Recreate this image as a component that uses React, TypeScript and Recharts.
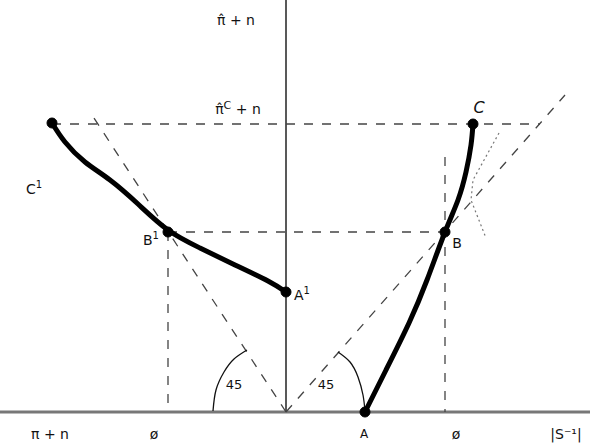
import React from "react";
import {
  ComposedChart,
  Line,
  XAxis,
  YAxis,
  ReferenceDot,
} from "recharts";

type Pt = { x: number; y: number };

// curves (thick)
const rightCurve: Pt[] = [
  { x: 7.9, y: 0 },
  { x: 10.0, y: 4.2 },
  { x: 12.3, y: 8.9 },
  { x: 14.1, y: 13.2 },
  { x: 15.9, y: 18.0 },
  { x: 17.2, y: 21.2 },
  { x: 18.0, y: 24.0 },
  { x: 18.5, y: 26.7 },
  { x: 18.7, y: 28.8 },
];

const leftCurve: Pt[] = [
  { x: -23.4, y: 28.9 },
  { x: -22.1, y: 27.0 },
  { x: -20.1, y: 25.0 },
  { x: -17.6, y: 23.2 },
  { x: -14.8, y: 20.8 },
  { x: -11.8, y: 18.2 },
  { x: -8.6, y: 16.4 },
  { x: -5.1, y: 14.7 },
  { x: -1.8, y: 13.1 },
  { x: 0, y: 12.0 },
];

// dashed guide lines
const topLevel: Pt[] = [{ x: -23.4, y: 28.8 }, { x: 25.4, y: 28.8 }];
const midLevel: Pt[] = [{ x: -11.8, y: 18.0 }, { x: 15.9, y: 18.0 }];
const dropLeft: Pt[] = [{ x: -11.8, y: 18.0 }, { x: -11.8, y: 0 }];
const dropRight: Pt[] = [{ x: 15.9, y: 25.5 }, { x: 15.9, y: 0 }];
const diagLeft: Pt[] = [{ x: 0, y: 0 }, { x: -19.6, y: 30.0 }];
const diagRight: Pt[] = [{ x: 0, y: 0 }, { x: 27.9, y: 31.7 }];
const tangentC: Pt[] = [
  { x: 21.3, y: 27.9 },
  { x: 18.7, y: 23.2 },
  { x: 18.5, y: 21.2 },
  { x: 20.0, y: 17.4 },
];

// axes
const hAxis: Pt[] = [{ x: -28.6, y: 0 }, { x: 30.4, y: 0 }];
const vAxis: Pt[] = [{ x: 0, y: 0 }, { x: 0, y: 41.2 }];

// 45 degree arcs
const arcLeft: Pt[] = [
  { x: -7.3, y: 0.1 },
  { x: -7.0, y: 2.2 },
  { x: -6.2, y: 4.0 },
  { x: -5.2, y: 5.3 },
  { x: -3.9, y: 6.2 },
];
const arcRight: Pt[] = [
  { x: 5.2, y: 6.0 },
  { x: 6.4, y: 5.0 },
  { x: 7.2, y: 3.5 },
  { x: 7.7, y: 1.7 },
  { x: 7.9, y: 0.1 },
];

const markedPoints = [
  { name: "C", x: 18.7, y: 28.8 },
  { name: "B", x: 15.9, y: 18.0 },
  { name: "A", x: 7.9, y: 0 },
  { name: "A1", x: 0, y: 12.0 },
  { name: "B1", x: -11.8, y: 18.0 },
  { name: "C1", x: -23.4, y: 28.9 },
];

const dashed = { stroke: "#444", strokeWidth: 1.3, strokeDasharray: "9 9" };
const plain = { dot: false, activeDot: false, isAnimationActive: false } as const;

const labelStyle: React.CSSProperties = {
  position: "absolute",
  transform: "translate(-50%, -50%)",
  fontFamily: "'DejaVu Sans', sans-serif",
  fontSize: 14,
  color: "#111",
  whiteSpace: "nowrap",
  lineHeight: 1,
};

function Label({ x, y, children, style }: { x: number; y: number; children: React.ReactNode; style?: React.CSSProperties }) {
  return <div style={{ ...labelStyle, left: x, top: y, ...style }}>{children}</div>;
}

export default function App() {
  return (
    <div style={{ position: "absolute", left: 0, top: 0, width: 600, height: 444, background: "#fff" }}>
      <ComposedChart width={600} height={444} margin={{ top: 0, right: 0, bottom: 0, left: 0 }}>
        <XAxis type="number" dataKey="x" domain={[-28.6, 31.4]} hide allowDataOverflow />
        <YAxis type="number" dataKey="y" domain={[-3.2, 41.2]} hide allowDataOverflow />

        <Line data={hAxis} dataKey="y" stroke="#777" strokeWidth={3} {...plain} />
        <Line data={vAxis} dataKey="y" stroke="#222" strokeWidth={1.5} {...plain} />

        <Line data={topLevel} dataKey="y" {...dashed} {...plain} />
        <Line data={midLevel} dataKey="y" {...dashed} {...plain} />
        <Line data={dropLeft} dataKey="y" {...dashed} {...plain} />
        <Line data={dropRight} dataKey="y" {...dashed} {...plain} />
        <Line data={diagLeft} dataKey="y" {...dashed} {...plain} />
        <Line data={diagRight} dataKey="y" {...dashed} {...plain} />
        <Line data={tangentC} dataKey="y" stroke="#777" strokeWidth={1.2} strokeDasharray="2 3" {...plain} />

        <Line data={arcLeft} dataKey="y" type="natural" stroke="#111" strokeWidth={1.3} {...plain} />
        <Line data={arcRight} dataKey="y" type="natural" stroke="#111" strokeWidth={1.3} {...plain} />

        <Line data={leftCurve} dataKey="y" type="natural" stroke="#000" strokeWidth={5} strokeLinecap="round" {...plain} />
        <Line data={rightCurve} dataKey="y" type="natural" stroke="#000" strokeWidth={5} strokeLinecap="round" {...plain} />

        {markedPoints.map((p) => (
          <ReferenceDot key={p.name} x={p.x} y={p.y} r={5} fill="#000" stroke="#000" />
        ))}
      </ComposedChart>

      <Label x={236} y={20}>π̂ + n</Label>
      <Label x={238} y={108}>
        π̂<sup style={{ fontSize: 11 }}>C</sup> + n
      </Label>
      <Label x={479} y={108} style={{ fontStyle: "italic", fontSize: 16 }}>C</Label>
      <Label x={34} y={188}>
        C<sup style={{ fontSize: 10 }}>1</sup>
      </Label>
      <Label x={151} y={239}>
        B<sup style={{ fontSize: 10 }}>1</sup>
      </Label>
      <Label x={457} y={243}>B</Label>
      <Label x={302} y={294}>
        A<sup style={{ fontSize: 10 }}>1</sup>
      </Label>
      <Label x={234} y={384} style={{ fontSize: 13 }}>45</Label>
      <Label x={326} y={384} style={{ fontSize: 13 }}>45</Label>

      <Label x={50} y={434}>π + n</Label>
      <Label x={154} y={434}>ø</Label>
      <Label x={364} y={434} style={{ fontSize: 12 }}>A</Label>
      <Label x={456} y={434}>ø</Label>
      <Label x={566} y={434}>|S⁻¹|</Label>
    </div>
  );
}
